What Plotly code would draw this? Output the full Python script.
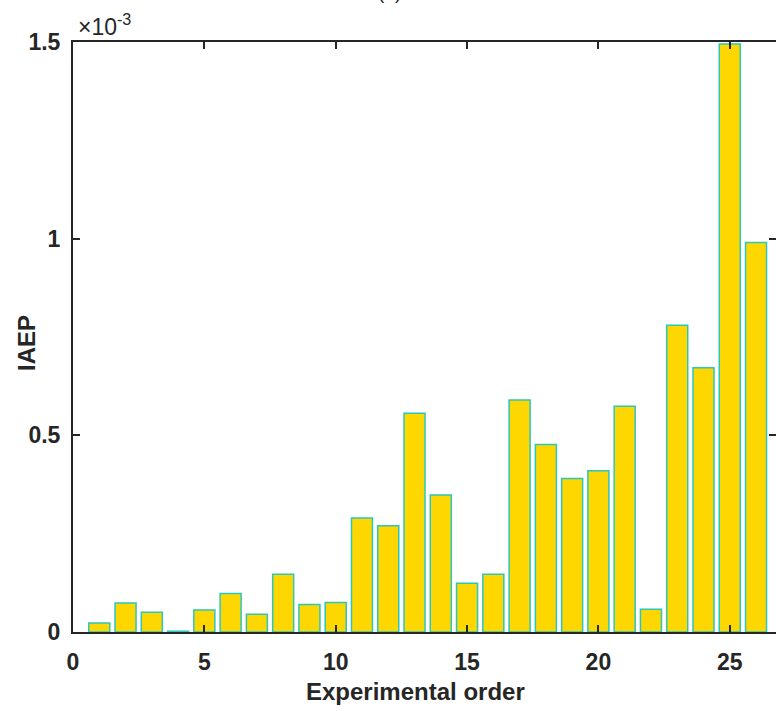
import plotly.graph_objects as go

# Experimental order (categories)
orders = list(range(1, 27))
# IAEP values, in units of 1e-3
iaep_e3 = [0.023, 0.074, 0.050, 0.002, 0.056, 0.098, 0.045, 0.147, 0.070, 0.075,
           0.290, 0.270, 0.556, 0.348, 0.124, 0.147, 0.590, 0.477, 0.390, 0.410,
           0.574, 0.058, 0.780, 0.672, 1.495, 0.990]
x_ticks = [0, 5, 10, 15, 20, 25]
y_ticks = [0, 0.5, 1, 1.5]
y_ticktext = ["0", "0.5", "1", "1.5"]

FONT = "Liberation Sans, Arial, sans-serif"
DARK = "#262626"

fig = go.Figure()
fig.add_trace(go.Bar(
    x=orders, y=iaep_e3, width=0.8,
    marker=dict(color="#FFD700", line=dict(color="#2BC6BE", width=1.5)),
    showlegend=False,
))
# invisible trace on right axis for the right-side ticks
fig.add_trace(go.Scatter(x=[orders[0]], y=[iaep_e3[0]], yaxis="y2",
                         mode="markers", marker=dict(opacity=0), showlegend=False,
                         hoverinfo="skip"))

fig.update_layout(
    width=776, height=711,
    margin=dict(l=73, r=0, t=42, b=79),
    plot_bgcolor="white", paper_bgcolor="white",
    font=dict(family=FONT, color=DARK, size=19),
    bargap=0.2,
    xaxis=dict(
        range=[0, 26.76], tickvals=x_ticks, ticks="inside", ticklen=7, tickwidth=2,
        tickcolor=DARK, showline=True, linewidth=2, linecolor=DARK, mirror="ticks",
        showgrid=False, zeroline=False, ticklabelstandoff=8,
        tickfont=dict(family=FONT, size=23, color=DARK, weight="bold"),
    ),
    yaxis=dict(
        range=[0, 1.5], tickvals=y_ticks, ticktext=y_ticktext, ticks="inside",
        ticklen=7, tickwidth=2, tickcolor=DARK, showline=True, linewidth=2,
        linecolor=DARK, showgrid=False, zeroline=False, ticklabelstandoff=6,
        tickfont=dict(family=FONT, size=23, color=DARK, weight="bold"),
    ),
    yaxis2=dict(
        range=[0, 1.5], tickvals=y_ticks, overlaying="y", side="right",
        ticks="inside", ticklen=7, tickwidth=2, tickcolor=DARK, showline=False,
        showticklabels=False, showgrid=False, zeroline=False,
    ),
    annotations=[
        dict(text="Experimental order", xref="paper", yref="paper",
             x=0.487, y=-0.0, yshift=-44, xanchor="center", yanchor="top",
             showarrow=False, font=dict(family=FONT, size=24, color=DARK, weight="bold")),
        dict(text="IAEP", xref="paper", yref="paper", x=0, xshift=-46, y=0.49,
             xanchor="center", yanchor="middle", textangle=-90, showarrow=False,
             font=dict(family=FONT, size=24, color=DARK, weight="bold")),
        dict(text="×10<sup>-3</sup>", xref="paper", yref="paper", x=0, xshift=3,
             y=1, yshift=0, xanchor="left", yanchor="bottom", showarrow=False,
             font=dict(family=FONT, size=23, color=DARK)),
        dict(text="(a)", xref="paper", yref="paper", x=0.45, y=1, yshift=37,
             xanchor="center", yanchor="bottom", showarrow=False,
             font=dict(family=FONT, size=19, color=DARK)),
    ],
)

fig.write_html("out.html")
